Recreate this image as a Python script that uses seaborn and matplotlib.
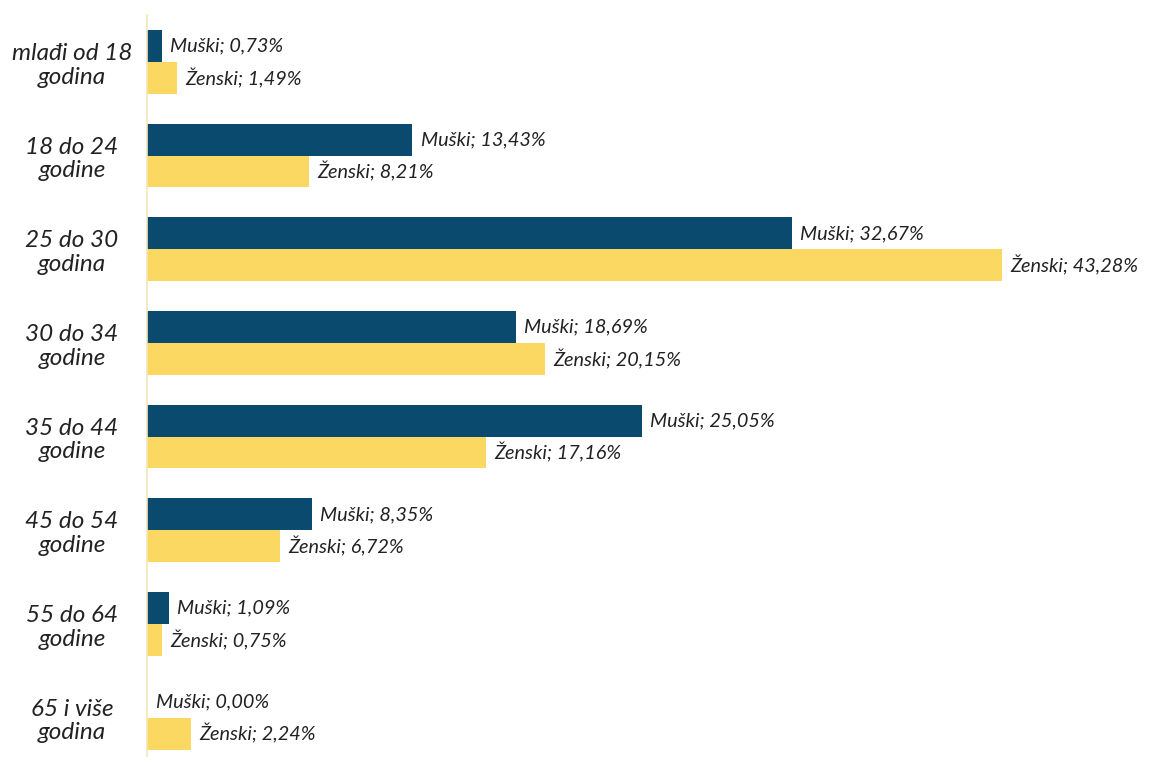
import pandas as pd
import seaborn as sns
import matplotlib.pyplot as plt

# Age groups and shares by gender (%)
categories = ["mlađi od 18\ngodina", "18 do 24\ngodine", "25 do 30\ngodina", "30 do 34\ngodine",
              "35 do 44\ngodine", "45 do 54\ngodine", "55 do 64\ngodine", "65 i više\ngodina"]
muski = [0.73, 13.43, 32.67, 18.69, 25.05, 8.35, 1.09, 0.00]
zenski = [1.49, 8.21, 43.28, 20.15, 17.16, 6.72, 0.75, 2.24]
genders = ["Muški", "Ženski"]
colors = ["#0b4a6f", "#fbd862"]

data = pd.DataFrame({
    "kategorija": categories * 2,
    "spol": [genders[0]] * len(categories) + [genders[1]] * len(categories),
    "vrijednost": muski + zenski,
})

sns.set_style("white")
plt.rcParams["font.family"] = ["Lato", "DejaVu Sans"]

fig = plt.figure(figsize=(11.5, 7.57), dpi=100)
ax = fig.add_axes([0.128, 0.0, 0.872, 0.98])

sns.barplot(data=data, y="kategorija", x="vrijednost", hue="spol", orient="h",
            palette=colors, width=0.68, ax=ax, legend=False, saturation=1,
            linewidth=0)

# Value labels at the end of each bar
for container, gender, vals in zip(ax.containers, genders, [muski, zenski]):
    labels = [f"{gender}; {v:.2f}%".replace(".", ",") for v in vals]
    ax.bar_label(container, labels=labels, padding=6, fontsize=14.3,
                 style="italic", color="#222222")

ax.set_xlim(0, 50.8)
ax.set_ylim(7.42, -0.5)
ax.set_xlabel("")
ax.set_ylabel("")
ax.set_xticks([])
ax.tick_params(axis="y", length=0, pad=8)
for lbl in ax.get_yticklabels():
    lbl.set_fontsize(17.5)
    lbl.set_fontstyle("italic")
    lbl.set_color("#222222")
    lbl.set_horizontalalignment("center")
    lbl.set_linespacing(1.15)
    lbl.set_x(-0.064)

for side in ["top", "right", "bottom"]:
    ax.spines[side].set_visible(False)
ax.spines["left"].set_color("#f3e6b5")
ax.spines["left"].set_linewidth(1.2)

plt.savefig("out.png", dpi=100)
